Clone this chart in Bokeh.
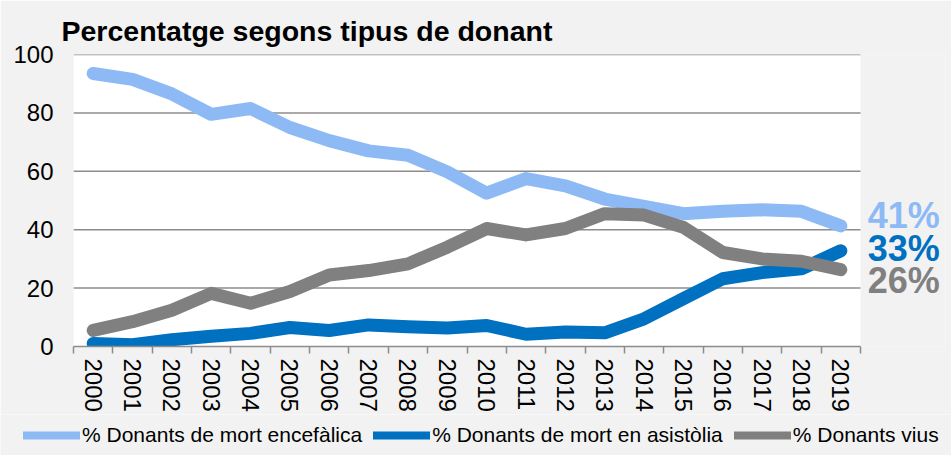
import math
from bokeh.plotting import figure
from bokeh.layouts import column
from bokeh.core.properties import value
from bokeh.models import (Range1d, FixedTicker, ColumnDataSource, LabelSet,
                          Legend, LegendItem, BoxAnnotation)
from bokeh.embed import file_html
from bokeh.resources import INLINE

years = ["2000", "2001", "2002", "2003", "2004", "2005", "2006", "2007", "2008", "2009",
         "2010", "2011", "2012", "2013", "2014", "2015", "2016", "2017", "2018", "2019"]
mort_encefalica = [93.5, 91.5, 86.5, 79.5, 81.5, 75.0, 70.5, 67.0, 65.5, 59.8,
                   52.5, 57.5, 55.0, 50.5, 48.0, 45.5, 46.3, 46.8, 46.3, 41.3]
mort_asistolia = [1.0, 0.6, 2.3, 3.5, 4.5, 6.5, 5.5, 7.4, 6.8, 6.3,
                  7.2, 4.2, 5.0, 4.7, 9.5, 16.4, 23.2, 25.3, 26.6, 32.8]
donants_vius = [5.5, 8.5, 12.4, 18.2, 14.8, 18.8, 24.5, 26.0, 28.3, 34.0,
                40.4, 38.2, 40.4, 45.5, 45.0, 40.8, 32.2, 30.0, 29.2, 26.3]
series_names = ["% Donants de mort encefàlica", "% Donants de mort en asistòlia", "% Donants vius"]
y_ticks = [0, 20, 40, 60, 80, 100]
title_text = "Percentatge segons tipus de donant"

colors = ["#8DBAF5", "#0070C0", "#808080"]
label_offsets = [10, 2, -11]
FONT = "Liberation Sans"
BG = "#F2F2F2"
GRID = "#8C8C8C"

series = [mort_encefalica, mort_asistolia, donants_vius]
n = len(years)
xc = [i + 0.5 for i in range(n)]
edges = list(range(n + 1))

W = 951
H1, H2 = 414, 41
FL, FT, FB, FR = 73, 54, 346, 945      # frame edges in pixels
CAT_RIGHT = 860                       # pixel where the last category ends
x_end = n * (FR - FL) / (CAT_RIGHT - FL)

p = figure(width=W, height=H1, output_backend="svg", toolbar_location=None,
           x_range=Range1d(0, x_end), y_range=Range1d(0, 100),
           min_border_left=FL, min_border_right=W - FR, min_border_top=FT,
           min_border_bottom=H1 - FB)
p.frame_align = False
p.background_fill_color = BG
p.border_fill_color = BG
p.outline_line_color = None

p.add_layout(BoxAnnotation(left=0, right=n, bottom=0, top=100, fill_color="white",
                           fill_alpha=1, line_color=None, level="underlay"))

p.title.text = title_text
p.title.text_font = FONT
p.title.text_font_size = "28.5px"
p.title.text_font_style = "bold"
p.title.text_color = "black"
p.title.offset = -12
p.title.standoff = 15

# x axis
xa = p.xaxis[0]
xa.bounds = (0, n)
xa.ticker = FixedTicker(ticks=xc, minor_ticks=edges)
xa.major_label_overrides = {x: y for x, y in zip(xc, years)}
xa.major_label_orientation = "vertical"
xa.major_tick_line_color = None
xa.minor_tick_line_color = GRID
xa.minor_tick_out = 7
xa.minor_tick_in = 0
xa.axis_line_color = GRID
xa.axis_line_width = 1.5
xa.minor_tick_line_width = 1.5
xa.major_label_text_font = FONT
xa.major_label_text_font_size = "24px"
xa.major_label_text_color = "black"
xa.major_label_standoff = 5

ya = p.yaxis[0]
ya.ticker = FixedTicker(ticks=y_ticks)
ya.axis_line_color = None
ya.major_tick_line_color = None
ya.minor_tick_line_color = None
ya.major_label_text_font = FONT
ya.major_label_text_font_size = "24px"
ya.major_label_text_color = "black"
ya.major_label_standoff = 14

p.xgrid.grid_line_color = None
p.ygrid.grid_line_color = None
gy = [t for t in y_ticks if t > 0]
p.segment(x0=[0] * len(gy), y0=gy, x1=[n] * len(gy), y1=gy,
          line_color=GRID, line_width=1.5)

for vals, col in zip(series, colors):
    p.line(xc, vals, line_width=13, line_color=col, line_cap="round", line_join="round")

last_vals = [s[-1] for s in series]
lab_src = ColumnDataSource(dict(
    x=[xc[-1]] * 3, y=last_vals,
    text=[f"{round(v)}%" for v in last_vals],
    color=colors, yoff=label_offsets))
labels = LabelSet(x="x", y="y", text="text", source=lab_src, text_color="color",
                  y_offset="yoff", x_offset=27, text_font=value(FONT),
                  text_font_size=value("36px"), text_font_style=value("bold"),
                  text_baseline="middle", text_align="left")
p.add_layout(labels)

# legend strip below the chart (series drawn out of view, used as legend sources)
lf = figure(width=W, height=H2, output_backend="svg", toolbar_location=None,
            x_axis_location=None, y_axis_location=None,
            x_range=Range1d(0, n), y_range=Range1d(-20, -10),
            min_border=0, min_border_left=0, min_border_right=0,
            min_border_top=0, min_border_bottom=0)
lf.frame_align = False
lf.background_fill_color = BG
lf.border_fill_color = BG
lf.outline_line_color = None
lf.xgrid.grid_line_color = None
lf.ygrid.grid_line_color = None
items = []
for name, vals, col in zip(series_names, series, colors):
    r = lf.line(xc, vals, line_width=8, line_color=col, line_cap="round")
    items.append(LegendItem(label=name, renderers=[r]))
legend = Legend(items=items, location=(23, 8), orientation="horizontal",
                glyph_width=57, glyph_height=20, label_height=20, label_standoff=2,
                spacing=11, padding=0, margin=0,
                label_text_font=FONT, label_text_font_size="21px", label_text_color="black",
                background_fill_alpha=0, border_line_color=None)
lf.add_layout(legend, "center")

open("out.html", "w").write(file_html(column(p, lf, spacing=0), INLINE))
